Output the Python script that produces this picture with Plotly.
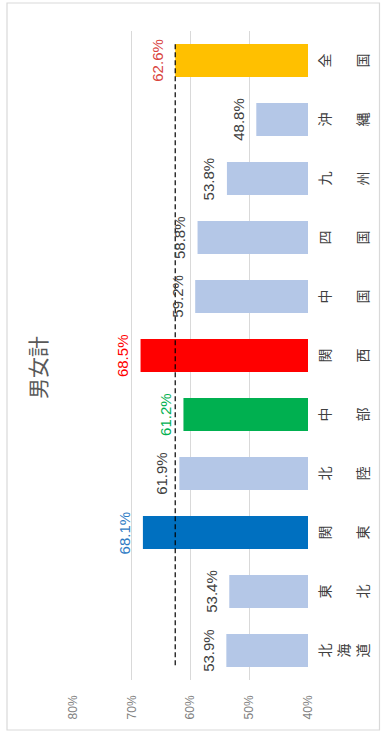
import plotly.graph_objects as go

# Regions listed from bottom to top of the category axis
regions = ["北海道", "東北", "関東", "北陸", "中部", "関西", "中国", "四国", "九州", "沖縄", "全国"]
rates = [53.9, 53.4, 68.1, 61.9, 61.2, 68.5, 59.2, 58.8, 53.8, 48.8, 62.6]

bar_colors = ["#B4C7E7", "#B4C7E7", "#0070C0", "#B4C7E7", "#00B050", "#FF0000",
              "#B4C7E7", "#B4C7E7", "#B4C7E7", "#B4C7E7", "#FFC000"]
label_colors = ["#404040", "#404040", "#2E7BC4", "#404040", "#00B050", "#FF0000",
                "#404040", "#404040", "#404040", "#404040", "#D9443F"]

value_ticks = [40, 50, 60, 70, 80]
national_value = rates[regions.index("全国")]

W, H = 381, 733
L, R, T, B = 73, 73, 31, 53
pw, ph = W - L - R, H - T - B


def px_x(p):
    return (p - L) / pw


def px_y(p):
    return (H - B - p) / ph


fig = go.Figure()
fig.add_trace(go.Bar(
    x=rates, y=regions, orientation="h",
    marker=dict(color=bar_colors, line=dict(width=0)),
    width=0.56, hoverinfo="skip",
))

annotations = []
for r, v, c in zip(regions, rates, label_colors):
    annotations.append(dict(
        x=v, y=r, xref="x", yref="y", text=f"{v:.1f}%", showarrow=False,
        textangle=-90, xanchor="center", yanchor="middle", xshift=-18,
        font=dict(family="Liberation Sans, Arial, sans-serif", size=15, color=c),
    ))

# Category names: vertical writing turned on its side, one glyph per slot
slot_px = [323, 342, 361]
for r in regions:
    chars = list(r)
    slots = slot_px if len(chars) == 3 else [slot_px[0], slot_px[2]]
    for ch, sx in zip(chars, slots):
        annotations.append(dict(
            x=px_x(sx), y=r, xref="paper", yref="y", text=ch, showarrow=False,
            textangle=-90, xanchor="center", yanchor="middle",
            font=dict(family="Noto Sans CJK JP", size=14, color="#404040"),
        ))

annotations.append(dict(
    x=px_x(37), y=px_y(368), xref="paper", yref="paper", text="男女計",
    showarrow=False, textangle=-90, xanchor="center", yanchor="middle",
    font=dict(family="Noto Sans CJK JP", size=21, color="#595959"),
))

shapes = [
    # chart border
    dict(type="rect", xref="paper", yref="paper",
         x0=px_x(7), x1=px_x(379.5), y0=px_y(730), y1=px_y(3),
         line=dict(color="#D9D9D9", width=1.2), fillcolor="rgba(0,0,0,0)", layer="below"),
    # national average reference line
    dict(type="line", xref="x", yref="y",
         x0=national_value, x1=national_value, y0=-0.25, y1=len(regions) - 1 + 0.28,
         line=dict(color="#000000", width=1.2, dash="5px,3px"), layer="above"),
]

fig.update_layout(
    width=W, height=H,
    margin=dict(l=L, r=R, t=T, b=B),
    paper_bgcolor="white", plot_bgcolor="white",
    showlegend=False,
    annotations=annotations, shapes=shapes,
    xaxis=dict(
        range=[80, 40], tickvals=value_ticks, ticktext=[f"{t}%" for t in value_ticks],
        tickangle=-90, showgrid=True, gridcolor="#D9D9D9", gridwidth=1.2,
        zeroline=False, showline=False, ticks="", ticklabelstandoff=12,
        tickfont=dict(family="Liberation Sans, Arial, sans-serif", size=12, color="#7F7F7F"),
        fixedrange=True,
    ),
    yaxis=dict(
        categoryorder="array", categoryarray=regions,
        showticklabels=False, showgrid=False, zeroline=False,
        showline=False, ticks="", fixedrange=True,
    ),
)

fig.write_html("out.html", config={"displayModeBar": False})
